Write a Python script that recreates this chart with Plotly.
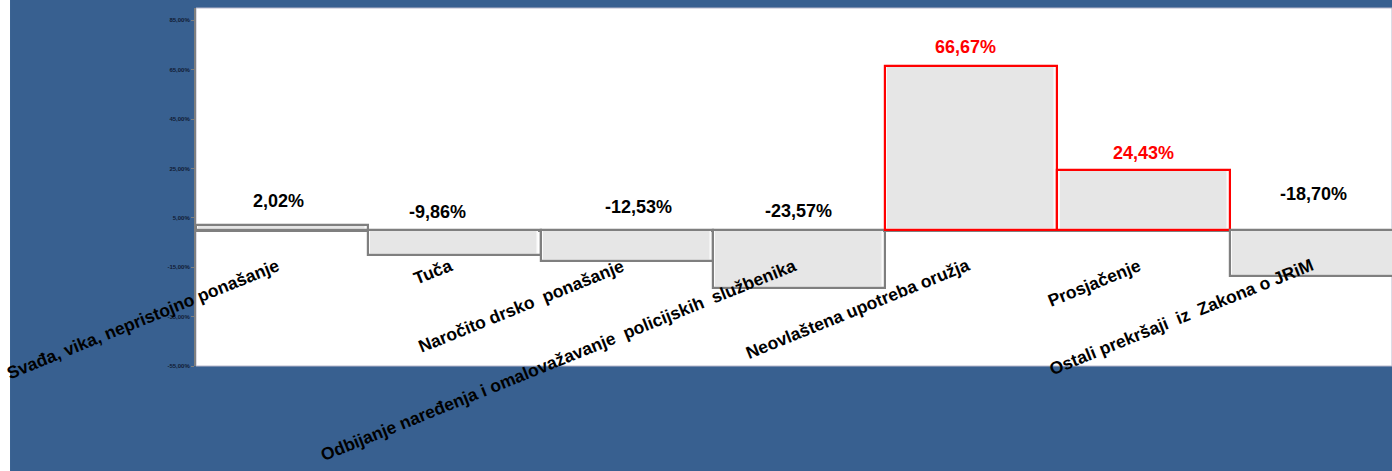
import plotly.graph_objects as go

# ---- data ----
categories = [
    "Svađa, vika, nepristojno ponašanje",
    "Tuča",
    "Naročito drsko \u00a0ponašanje",
    "Odbijanje naređenja i omalovažavanje \u00a0policijskih \u00a0službenika",
    "Neovlaštena upotreba oružja",
    "Prosjačenje",
    "Ostali prekršaji \u00a0iz \u00a0Zakona o JRiM",
]
values = [2.02, -9.86, -12.53, -23.57, 66.67, 24.43, -18.70]
highlighted = [False, False, False, False, True, True, False]
y_tick_values = [-55, -35, -15, 5, 25, 45, 65, 85]
y_tick_labels = ["-55,00%", "-35,00%", "-15,00%", "5,00%", "25,00%", "45,00%", "65,00%", "85,00%"]

# ---- styling ----
BLUE = "#386090"
GRAY_LINE = "#7F7F7F"
RED = "#FF0000"
label_xshift = [-4, -17, 12, -1, -6, 0, -2]
label_yshift = [24, 18, 23, 19, 19, 17, 36]

def fmt(v):
    return f"{v:.2f}".replace(".", ",") + "%"

fig = go.Figure()
# face of the bars (with light inner edge on the sides)
fig.add_trace(go.Bar(
    x=categories,
    y=values,
    marker=dict(color="#E6E6E6", line=dict(color="#FBFBFB", width=1.5)),
    width=0.975,
    hoverinfo="skip",
))
# outline of the bars
fig.add_trace(go.Bar(
    x=categories,
    y=values,
    marker=dict(
        color="rgba(0,0,0,0)",
        line=dict(color=[RED if h else GRAY_LINE for h in highlighted],
                  width=2.2),
    ),
    width=1.0,
    hoverinfo="skip",
))

annotations = []
for i, (c, v, h) in enumerate(zip(categories, values, highlighted)):
    annotations.append(dict(
        x=c, y=max(v, 0), xref="x", yref="y",
        text=fmt(v), showarrow=False,
        xanchor="center", yanchor="middle",
        xshift=label_xshift[i], yshift=label_yshift[i],
        font=dict(family="Liberation Sans, Arial", size=18, color=RED if h else "#000000", weight="bold"),
    ))
    annotations.append(dict(
        x=c, y=-9, xref="x", yref="y",
        text=c, showarrow=False,
        xanchor="right", yanchor="top",
        xshift=3, textangle=-22,
        font=dict(family="Liberation Sans, Arial", size=17.5, color="#000000", weight="bold"),
    ))

fig.update_layout(
    width=1392, height=471,
    margin=dict(l=196, r=0, t=8, b=105, pad=0),
    paper_bgcolor=BLUE,
    plot_bgcolor="#FFFFFF",
    showlegend=False,
    barmode="overlay",
    bargap=0,
    annotations=annotations,
    shapes=[
        dict(type="rect", xref="paper", yref="paper", x0=-0.17, x1=-0.1555, y0=-0.5, y1=1.1,
             fillcolor="#FFFFFF", line=dict(width=0), layer="below"),
        dict(type="rect", xref="paper", yref="paper", x0=0, x1=1, y0=0, y1=1,
             line=dict(color="#B8B8CC", width=1), layer="below"),
    ],
    xaxis=dict(
        range=[-0.5, 6.442],
        showticklabels=False, showgrid=False, zeroline=False, showline=False, ticks="",
    ),
    yaxis=dict(
        range=[-55, 90],
        tickvals=y_tick_values, ticktext=y_tick_labels,
        tickfont=dict(family="Liberation Sans, Arial", size=6, color="#111B33", weight="bold"),
        ticks="outside", ticklen=3, tickcolor=GRAY_LINE, tickwidth=1,
        showline=True, linecolor=GRAY_LINE, linewidth=2,
        showgrid=False,
        zeroline=True, zerolinecolor=GRAY_LINE, zerolinewidth=3,
    ),
)

fig.write_html(
    "out.html",
    config={"displayModeBar": False},
    post_script="document.body.style.margin='0';document.body.style.overflow='hidden';",
)
